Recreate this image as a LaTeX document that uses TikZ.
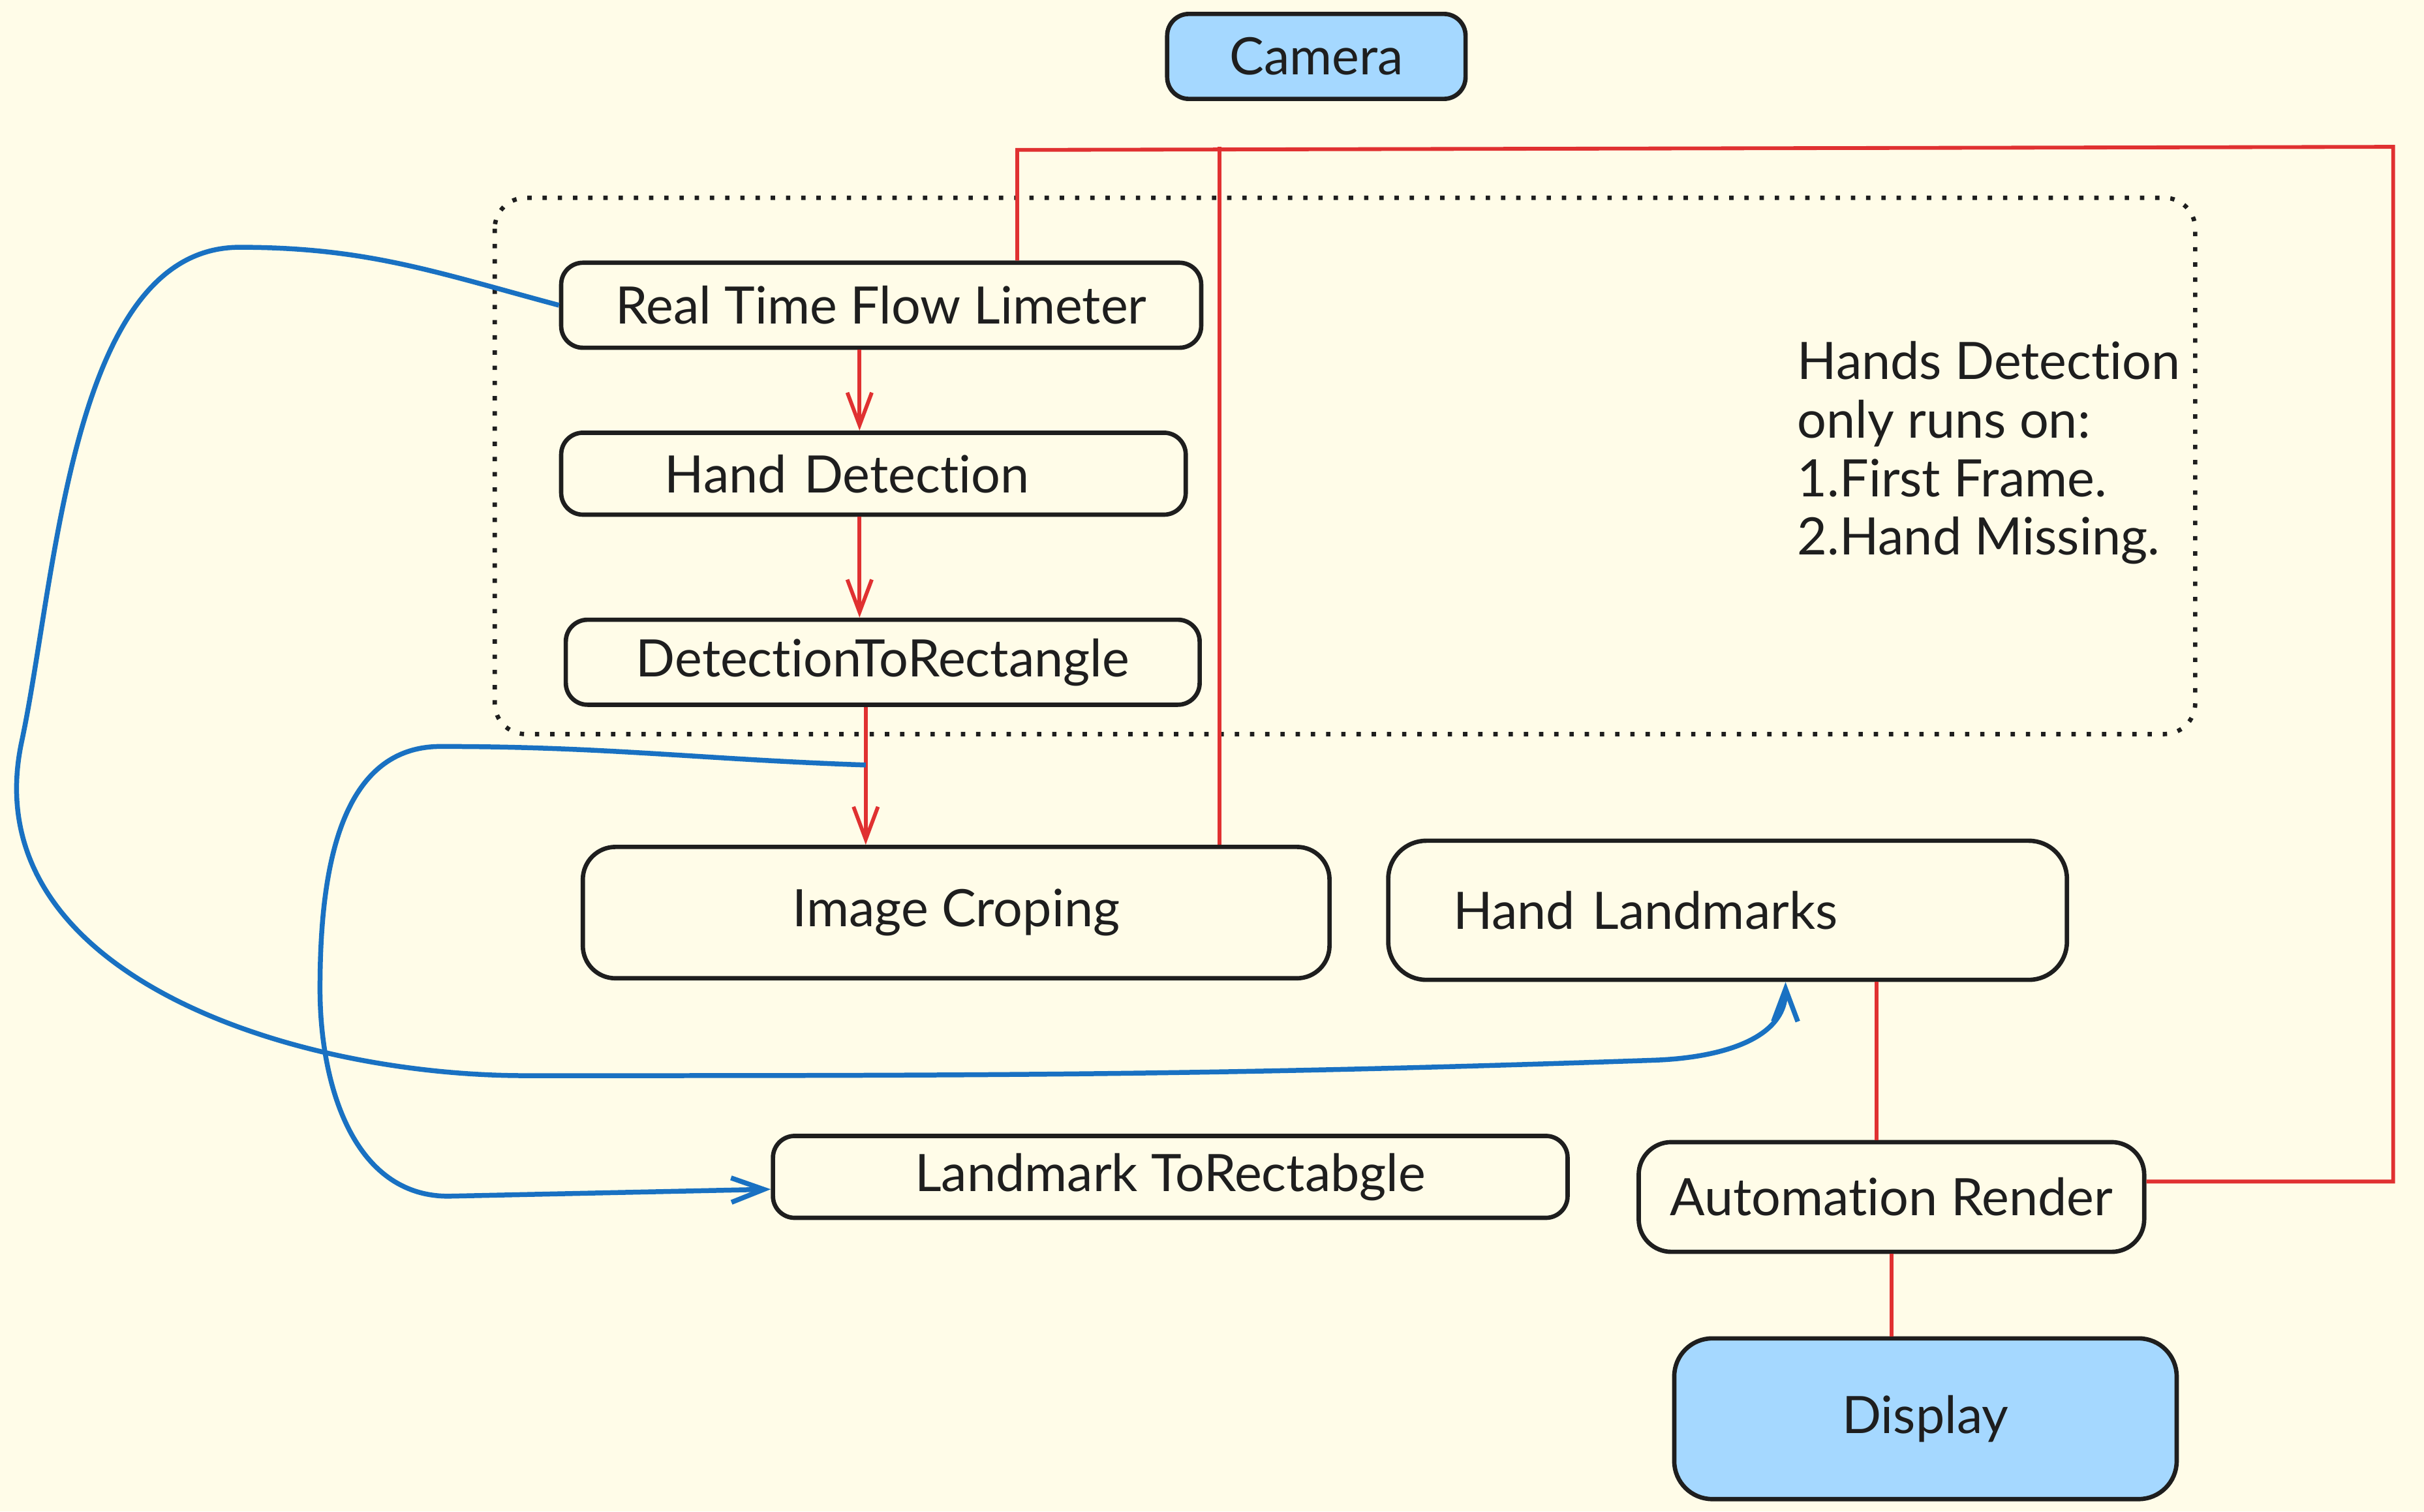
\documentclass[tikz,border=0pt]{standalone}
\usepackage{fontspec}
\setmainfont{Lato}[Ligatures=NoCommon]
\usepackage{tikz}
\usetikzlibrary{arrows.meta, positioning, calc}
\definecolor{paperCream}{HTML}{FFFCE8}
\definecolor{inkDark}{HTML}{1E1E1E}
\definecolor{sketchRed}{HTML}{E03131}
\definecolor{sketchBlue}{HTML}{1971C2}
\definecolor{fillBlue}{HTML}{A5D8FF}

\begin{document}
\begin{tikzpicture}[
    sbox/.style={rectangle, draw=inkDark, line width=0.8pt, rounded corners=4pt, inner sep=0pt,
      font=\fontsize{9.5}{11.5}\selectfont, text=inkDark, align=center},
    bbox/.style={sbox, fill=fillBlue},
    notetext/.style={font=\fontsize{9.5}{10.8}\selectfont, text=inkDark, align=left, inner sep=0pt},
    rline/.style={sketchRed, line width=0.7pt},
    rarr/.style={rline, -{Straight Barb[length=6pt, width=4.5pt]}},
    barr/.style={sketchBlue, line width=0.9pt, -{Straight Barb[length=6pt, width=4.5pt]}}
  ]
  \fill[paperCream] (0,0) rectangle (15.68,-9.78);
  \useasboundingbox (0,0) rectangle (15.68,-9.78);

  % dotted group
  \draw[inkDark, line width=0.8pt, dotted, rounded corners=0.2cm] (3.20,-1.28) rectangle (14.20,-4.75);

  \node[bbox, minimum width=1.93cm, minimum height=0.55cm] (camera) at (8.515,-0.365) {Camera};
  \node[sbox, minimum width=4.14cm, minimum height=0.55cm] (rtfl) at (5.70,-1.975) {Real Time Flow Limeter};
  \node[sbox, text width=2.70cm, inner xsep=0.67cm, align=left, minimum height=0.53cm] (handdet) at (5.65,-3.065) {Hand Detection};
  \node[sbox, minimum width=4.10cm, minimum height=0.55cm] (dtr) at (5.71,-4.285) {DetectionToRectangle};
  \node[sbox, rounded corners=6pt, minimum width=4.83cm, minimum height=0.85cm] (crop) at (6.185,-5.905) {Image Croping};
  \node[sbox, rounded corners=7pt, text width=3.55cm, inner xsep=0.42cm, align=left, minimum height=0.90cm] (landmarks) at (11.175,-5.89) {\raisebox{-0.07cm}{Hand Landmarks}};
  \node[sbox, minimum width=5.14cm, minimum height=0.53cm] (ltr) at (7.57,-7.615) {Landmark ToRectabgle};
  \node[sbox, rounded corners=6pt, minimum width=3.27cm, minimum height=0.71cm] (render) at (12.235,-7.745) {Automation Render};
  \node[bbox, rounded corners=7pt, minimum width=3.25cm, minimum height=1.04cm] (display) at (12.455,-9.18) {Display};
  \node[notetext, anchor=north west] (note) at (11.62,-2.20) {Hands Detection\\only runs on:\\1.First Frame.\\2.Hand Missing.};

  \coordinate (colA) at (5.56,0);
  \coordinate (colB) at (5.60,0);
  \coordinate (colD) at (12.14,0);
  \coordinate (colE) at (11.55,0);
  \coordinate (loopR) at (15.48,-0.95);
  \coordinate (loopL) at (6.58,-0.97);
  \coordinate (tapC) at (7.89,-0.95);
  \coordinate (tapB) at (5.60,-4.95);

  % red flow
  \draw[rarr] (colA |- rtfl.south) -- (colA |- handdet.north);
  \draw[rarr] (colA |- handdet.south) -- (colA |- dtr.north);
  \draw[rarr] (colB |- dtr.south) -- (colB |- crop.north);
  \draw[rline] ([yshift=0.1cm]render.east) -| (loopR) -- (loopL) -- (loopL |- rtfl.north);
  \draw[rline] (tapC) -- (tapC |- crop.north);
  \draw[rline] (colD |- landmarks.south) -- (colD |- render.north);
  \draw[rline] (render.south) -- (render.south |- display.north);

  % blue feedback
  \draw[barr] (rtfl.west) to[out=165, in=0] (1.55,-1.6) to[out=180, in=78, looseness=0.8] (0.14,-4.8)
    to[out=-102, in=180] (3.4,-6.96) to[out=0, in=182] (10.7,-6.86) to[out=2, in=-90] (colE |- landmarks.south);
  \draw[barr] (tapB) to[out=178, in=0] (2.85,-4.83) to[out=180, in=90] (2.07,-6.4)
    to[out=-90, in=180] (2.9,-7.74) -- ([yshift=-0.08cm]ltr.west);
\end{tikzpicture}
\end{document}
